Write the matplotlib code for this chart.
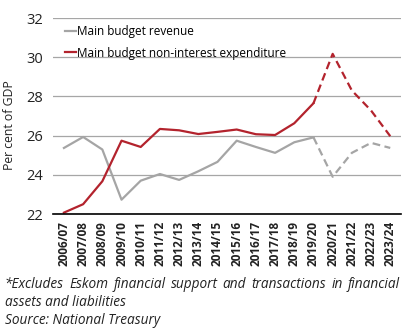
import matplotlib

matplotlib.use('Agg')
import matplotlib.pyplot as plt

# ── data ──────────────────────────────────────────────────────────────────────

years = ['2006/07', '2007/08', '2008/09', '2009/10', '2010/11', '2011/12',
         '2012/13', '2013/14', '2014/15', '2015/16', '2016/17', '2017/18',
         '2018/19', '2019/20', '2020/21', '2021/22', '2022/23', '2023/24']
revenue = [25.37, 25.93, 25.29, 22.73, 23.70, 24.04, 23.74, 24.18, 24.66,
           25.74, 25.42, 25.12, 25.66, 25.91, 23.90, 25.12, 25.63, 25.37]
expenditure = [22.07, 22.50, 23.67, 25.74, 25.42, 26.34, 26.27, 26.08, 26.19,
               26.31, 26.07, 26.03, 26.63, 27.65, 30.17, 28.30, 27.28, 25.97]
last_actual = 13  # 2019/20: solid up to here, dashed after
yticks = [22, 24, 26, 28, 30, 32]

_GREY = '#a5a5a5'
_RED = '#b3232d'
_GRID = '#a6a6a6'
_TXT = '#222222'

plt.rcParams['font.family'] = ['Open Sans', 'DejaVu Sans']

fig = plt.figure(figsize=(4.13, 3.29), dpi=100)
ax = fig.add_axes([53 / 413, 1 - 214 / 329, 348 / 413, 196 / 329])

x = list(range(len(years)))
k = last_actual
ax.plot(x[:k + 1], revenue[:k + 1], color=_GREY, lw=1.6, label='Main budget revenue')
ax.plot(x[k:], revenue[k:], color=_GREY, lw=1.6, ls=(0, (3.5, 2)))
ax.plot(x[:k + 1], expenditure[:k + 1], color=_RED, lw=1.6,
        label='Main budget non-interest expenditure')
ax.plot(x[k:], expenditure[k:], color=_RED, lw=1.6, ls=(0, (3.5, 2)))

ax.set_xlim(-0.57, len(years) - 1 + 0.56)
ax.set_ylim(22, 32)
ax.set_yticks(yticks)
ax.set_xticks(x)
ax.set_xticklabels(years, rotation=90, fontsize=8.5, fontweight='bold', color=_TXT)
ax.tick_params(axis='y', length=0, pad=7, labelsize=10.5, labelcolor=_TXT)
ax.tick_params(axis='x', length=0, pad=5)
ax.grid(axis='y', color=_GRID, lw=0.9)
ax.set_axisbelow(True)
for s in ('top', 'right', 'left'):
    ax.spines[s].set_visible(False)
ax.spines['bottom'].set_color('black')
ax.spines['bottom'].set_linewidth(1.2)

ax.set_ylabel('Per cent of GDP', fontsize=8.8, color=_TXT)
ax.yaxis.set_label_coords(-37 / 348, 0.455)

ax.legend(loc='upper left', bbox_to_anchor=(0.02, 0.99), frameon=False,
          fontsize=8.5, handlelength=1.0, handletextpad=0.05, labelspacing=0.75,
          borderaxespad=0)

# footnote: first line justified across the figure width
notes = ['*Excludes Eskom financial support and transactions in financial',
         'assets and liabilities',
         'Source: National Treasury']
left, right = 5 / 413, 400 / 413
renderer = fig.canvas.get_renderer()
words = notes[0].split()
texts = [fig.text(0, 1 - 284 / 329, w, fontsize=9.8, style='italic', color=_TXT,
                  va='center') for w in words]
widths = [t.get_window_extent(renderer).width / fig.bbox.width for t in texts]
gap = (right - left - sum(widths)) / (len(words) - 1)
pos = left
for t, w in zip(texts, widths):
    t.set_x(pos)
    pos += w + gap
for i, line in enumerate(notes[1:], start=1):
    fig.text(left, 1 - (284 + i * 18.5) / 329, line, fontsize=9.8,
             style='italic', color=_TXT, va='center')

fig.savefig('out.png', dpi=100)
